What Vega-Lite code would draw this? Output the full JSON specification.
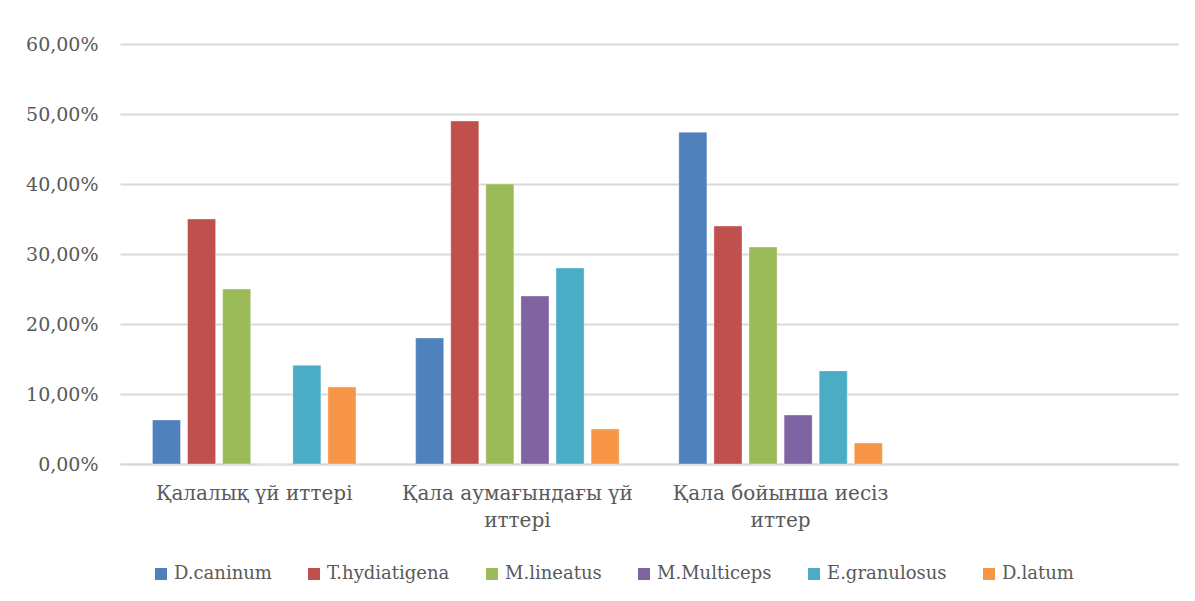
{
  "$schema": "https://vega.github.io/schema/vega-lite/v6.json",
  "width": 1058,
  "height": 420,
  "autosize": {"type": "none"},
  "padding": {"left": 120, "top": 44, "right": 17, "bottom": 137},
  "background": "white",
  "config": {
    "view": {"stroke": null},
    "font": "DejaVu Serif"
  },
  "data": {
    "values": [
      {"group": "Қалалық үй иттері", "species": "D.caninum", "value": 0.063},
      {"group": "Қалалық үй иттері", "species": "T.hydiatigena", "value": 0.35},
      {"group": "Қалалық үй иттері", "species": "M.lineatus", "value": 0.25},
      {"group": "Қалалық үй иттері", "species": "M.Multiceps", "value": 0},
      {"group": "Қалалық үй иттері", "species": "E.granulosus", "value": 0.141},
      {"group": "Қалалық үй иттері", "species": "D.latum", "value": 0.11},
      {"group": "Қала аумағындағы үй иттері", "species": "D.caninum", "value": 0.18},
      {"group": "Қала аумағындағы үй иттері", "species": "T.hydiatigena", "value": 0.49},
      {"group": "Қала аумағындағы үй иттері", "species": "M.lineatus", "value": 0.40},
      {"group": "Қала аумағындағы үй иттері", "species": "M.Multiceps", "value": 0.24},
      {"group": "Қала аумағындағы үй иттері", "species": "E.granulosus", "value": 0.28},
      {"group": "Қала аумағындағы үй иттері", "species": "D.latum", "value": 0.05},
      {"group": "Қала бойынша иесіз иттер", "species": "D.caninum", "value": 0.474},
      {"group": "Қала бойынша иесіз иттер", "species": "T.hydiatigena", "value": 0.34},
      {"group": "Қала бойынша иесіз иттер", "species": "M.lineatus", "value": 0.31},
      {"group": "Қала бойынша иесіз иттер", "species": "M.Multiceps", "value": 0.07},
      {"group": "Қала бойынша иесіз иттер", "species": "E.granulosus", "value": 0.133},
      {"group": "Қала бойынша иесіз иттер", "species": "D.latum", "value": 0.03}
    ]
  },
  "mark": {"type": "bar", "strokeWidth": 1, "strokeOpacity": 0.35, "stroke": "white"},
  "encoding": {
    "x": {
      "field": "group",
      "type": "nominal",
      "sort": null,
      "scale": {
        "domain": ["Қалалық үй иттері", "Қала аумағындағы үй иттері", "Қала бойынша иесіз иттер", "_"],
        "paddingInner": 0.2,
        "paddingOuter": 0.11
      },
      "axis": {
        "title": null,
        "labelAngle": 0,
        "ticks": false,
        "domainColor": "#d9d9d9",
        "domainWidth": 2,
        "labelFont": "DejaVu Serif",
        "labelFontSize": 20,
        "labelColor": "#595959",
        "labelPadding": 19,
        "labelLineHeight": 27,
        "labelLimit": 400,
        "labelExpr": "datum.label == '_' ? '' : datum.label == 'Қала аумағындағы үй иттері' ? ['Қала аумағындағы үй', 'иттері'] : datum.label == 'Қала бойынша иесіз иттер' ? ['Қала бойынша иесіз', 'иттер'] : datum.label"
      }
    },
    "xOffset": {
      "field": "species",
      "type": "nominal",
      "sort": ["D.caninum", "T.hydiatigena", "M.lineatus", "M.Multiceps", "E.granulosus", "D.latum"],
      "scale": {"paddingInner": 0.2, "paddingOuter": 0.1}
    },
    "y": {
      "field": "value",
      "type": "quantitative",
      "scale": {"domain": [0, 0.6], "nice": false},
      "axis": {
        "title": null,
        "values": [0, 0.1, 0.2, 0.3, 0.4, 0.5, 0.6],
        "domain": false,
        "ticks": false,
        "gridColor": "#d9d9d9",
        "gridWidth": 2,
        "labelFont": "DejaVu Serif",
        "labelFontSize": 19,
        "labelColor": "#595959",
        "labelPadding": 22,
        "labelExpr": "replace(format(datum.value, '.2%'), '.', ',')"
      }
    },
    "color": {
      "field": "species",
      "type": "nominal",
      "sort": ["D.caninum", "T.hydiatigena", "M.lineatus", "M.Multiceps", "E.granulosus", "D.latum"],
      "scale": {
        "domain": ["D.caninum", "T.hydiatigena", "M.lineatus", "M.Multiceps", "E.granulosus", "D.latum"],
        "range": ["#4F81BD", "#C0504D", "#9BBB59", "#8064A2", "#4BACC6", "#F79646"]
      },
      "legend": {
        "title": null,
        "orient": "none",
        "direction": "horizontal",
        "legendX": 32,
        "legendY": 521,
        "symbolType": "square",
        "symbolSize": 144,
        "symbolStrokeWidth": 0,
        "labelFont": "DejaVu Serif",
        "labelFontSize": 18,
        "labelColor": "#595959",
        "labelOffset": 4,
        "columnPadding": 33,
        "labelLimit": 300
      }
    }
  }
}
